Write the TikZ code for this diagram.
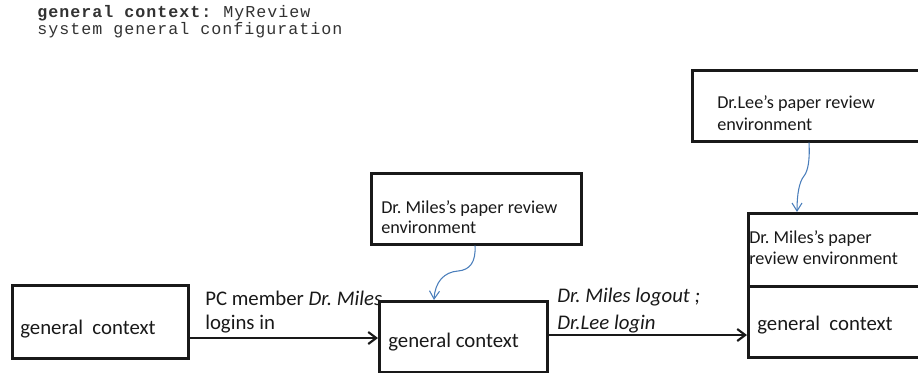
\documentclass[tikz,border=0pt]{standalone}
\usepackage{fontspec}
\setmainfont{Carlito}
\newfontfamily\monofam[LetterSpace=6]{Liberation Mono}
\usetikzlibrary{arrows.meta}
\definecolor{linkblue}{RGB}{74,126,187}
\definecolor{ink}{RGB}{25,25,25}
\definecolor{hdrink}{RGB}{50,50,50}
% font size with a fixed distance between baselines
\newcommand\fsz[2]{\fontsize{#1}{#2}\selectfont\lineskiplimit=-20pt\relax}
\frenchspacing
\begin{document}
\frenchspacing
\begin{tikzpicture}[x=0.75pt,y=-0.75pt,
  box/.style={draw=ink,line width=1.9pt,rectangle,inner sep=0pt,anchor=north west},
  txt/.style={inner sep=0pt,anchor=base west,align=left,text=ink},
  flow/.style={draw=ink,line width=1.6pt,-{Straight Barb[length=6pt,width=9pt,line width=1.6pt]}},
  link/.style={draw=linkblue,line width=0.8pt,-{Straight Barb[length=6pt,width=7.5pt,line width=0.8pt]}}]
\useasboundingbox (0,0) rectangle (918,372);
\clip (0,0) rectangle (918,372);

% header (node base = last baseline)
\node[txt,text=hdrink,font=\monofam\fsz{12.5}{12.75}] (hdr) at (37,34)
  {\textbf{general context:} MyReview\\system general configuration};

% boxes
\node[box,minimum width=132pt,minimum height=54.75pt] (b1) at (11,284) {};
\node[box,minimum width=157.5pt,minimum height=53.25pt] (env1) at (370,172) {};
\node[box,minimum width=126pt,minimum height=53.25pt] (b2) at (378,300) {};
\node[box,minimum width=179.25pt,minimum height=53.25pt] (env2) at (691,69) {};
\node[box,minimum width=137.25pt,minimum height=54.75pt] (b3up) at (747,212) {};
\node[box,minimum width=137.25pt,minimum height=53.25pt] (b3low) at (747,285) {};

% box texts
\node[txt,font=\fsz{15.6}{17.6}] (t1) at (20,334) {general\ \ context};
\node[txt,font=\fsz{13.65}{15}] (t2) at (381,233) {Dr. Miles’s paper review\\environment};
\node[txt,font=\fsz{15.6}{17.6}] (t3) at (388,347) {general context};
\node[txt,font=\fsz{13.65}{16.5}] (t4) at (717,130) {Dr.Lee’s paper review\\environment};
\node[txt,font=\fsz{13.65}{15.75}] (t5) at (749,264) {Dr. Miles’s paper\\review environment};
\node[txt,font=\fsz{15.6}{17.6}] (t6) at (757,330) {general\ \ context};

% transition labels
\node[txt,font=\fsz{15.6}{17.6}] (l1) at (205,329) {PC member \textit{Dr. Miles}\\logins in};
\node[txt,font=\fsz{15.6}{20.25}] (l2) at (557,329) {\textit{Dr. Miles logout ;}\\\textit{Dr.Lee login}};

% transitions
\draw[flow] (b1.east |- 0,338) -- (b2.west |- 0,338);
\draw[flow] (b2.east |- 0,335) -- (b3low.west |- 0,335);

% environment links
\draw[link] (env1.south -| 475,0) .. controls (476,262) and (470,270) .. (458,271)
  .. controls (444,272) and (435,282) .. (b2.north -| 434,0);
\draw[link] (env2.south -| 809,0) .. controls (810,160) and (808,171) .. (804,176)
  .. controls (799,182) and (797,195) .. (b3up.north -| 797,0);
\end{tikzpicture}
\end{document}
